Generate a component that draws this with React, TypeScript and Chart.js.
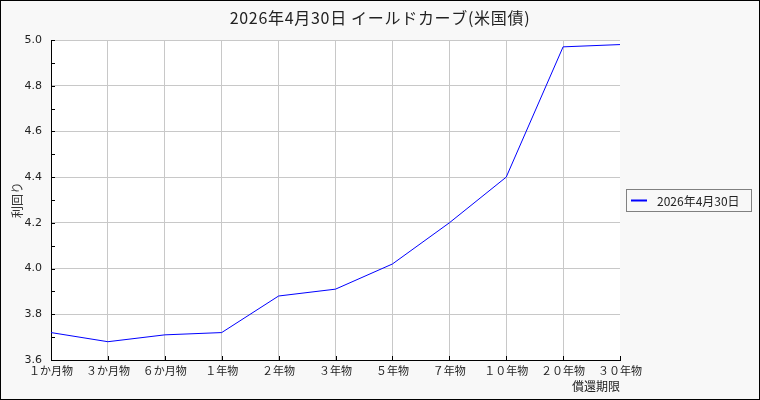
import React, { useEffect, useRef } from 'react';
import { Chart, registerables } from 'chart.js';

Chart.register(...registerables);

const maturities = ['１か月物', '３か月物', '６か月物', '１年物', '２年物', '３年物', '５年物', '７年物', '１０年物', '２０年物', '３０年物'];
const yields = [3.72, 3.68, 3.71, 3.72, 3.88, 3.91, 4.02, 4.20, 4.40, 4.97, 4.98];
const seriesLabel = '2026年4月30日';
const chartTitle = '2026年4月30日 イールドカーブ(米国債)';

const JP = '"Noto Sans CJK JP", "Noto Sans", sans-serif';
const BG = '#f8f8f8';
const GRID = '#c8c8c8';

const isMajor = (v: number) => Math.round(v * 10) % 2 === 0;

// page background, outer frame, white plot area and the title centred on the whole canvas
const backdrop = {
  id: 'backdrop',
  beforeDraw(chart: any) {
    const { ctx, width, height, chartArea } = chart;
    ctx.save();
    ctx.fillStyle = BG;
    ctx.fillRect(0, 0, width, height);
    ctx.strokeStyle = '#000';
    ctx.lineWidth = 1;
    ctx.strokeRect(0.5, 0.5, width - 1, height - 1);
    ctx.fillStyle = '#fff';
    ctx.fillRect(chartArea.left, chartArea.top, chartArea.right - chartArea.left, chartArea.bottom - chartArea.top);
    ctx.fillStyle = '#222';
    ctx.font = `16px ${JP}`;
    (ctx as any).letterSpacing = '0.7px';
    ctx.textAlign = 'center';
    ctx.textBaseline = 'middle';
    ctx.fillText(chartTitle, width / 2, 18);
    ctx.restore();
  },
};

// small tick marks drawn inside the plot area
const innerTicks = {
  id: 'innerTicks',
  afterDraw(chart: any) {
    const { ctx, chartArea, scales } = chart;
    ctx.save();
    ctx.strokeStyle = '#000';
    ctx.lineWidth = 1;
    ctx.beginPath();
    scales.y.ticks.forEach((t: any) => {
      const y = Math.round(scales.y.getPixelForValue(t.value)) + 0.5;
      ctx.moveTo(chartArea.left, y);
      ctx.lineTo(chartArea.left + 4, y);
    });
    scales.x.ticks.forEach((_t: any, i: number) => {
      const x = Math.round(scales.x.getPixelForTick(i)) + 0.5;
      ctx.moveTo(x, chartArea.bottom);
      ctx.lineTo(x, chartArea.bottom - 4);
    });
    ctx.stroke();
    ctx.restore();
  },
};

// boxed legend on the right
const boxLegend = {
  id: 'boxLegend',
  afterDraw(chart: any) {
    const { ctx, chartArea } = chart;
    const ds = chart.data.datasets[0];
    const left = chartArea.right + 6;
    const top = 189;
    const w = 126;
    const h = 23;
    ctx.save();
    ctx.fillStyle = BG;
    ctx.fillRect(left, top, w, h);
    ctx.strokeStyle = '#808080';
    ctx.lineWidth = 1;
    ctx.strokeRect(left + 0.5, top + 0.5, w - 1, h - 1);
    ctx.strokeStyle = ds.borderColor;
    ctx.lineWidth = 2;
    ctx.beginPath();
    ctx.moveTo(left + 5, top + h / 2);
    ctx.lineTo(left + 21, top + h / 2);
    ctx.stroke();
    ctx.fillStyle = '#222';
    ctx.font = `12px ${JP}`;
    ctx.textBaseline = 'middle';
    ctx.fillText(ds.label, left + 31, top + h / 2 + 1);
    ctx.restore();
  },
};

export default function App() {
  const canvasRef = useRef<HTMLCanvasElement>(null);

  useEffect(() => {
    if (!canvasRef.current) return;
    const last = maturities.length - 1;
    const chart = new Chart(canvasRef.current, {
      type: 'line',
      data: {
        labels: maturities,
        datasets: [
          {
            label: seriesLabel,
            data: yields,
            borderColor: '#0000ff',
            backgroundColor: '#0000ff',
            borderWidth: 1,
            pointRadius: 0,
            tension: 0,
          },
        ],
      },
      options: {
        responsive: false,
        animation: false,
        devicePixelRatio: 1,
        layout: { padding: { left: 4, right: 140, top: 40, bottom: 6 } },
        plugins: {
          legend: { display: false },
          tooltip: { enabled: false },
          title: { display: false },
        },
        scales: {
          x: {
            offset: false,
            afterFit: (s: any) => {
              s.height = 34;
            },
            grid: {
              drawTicks: false,
              color: (c: any) => (c.index === last ? 'transparent' : GRID),
            },
            border: { color: '#000', width: 1 },
            ticks: {
              autoSkip: false,
              maxRotation: 0,
              padding: 4,
              color: '#222',
              font: { family: JP, size: 11 },
            },
            title: {
              display: true,
              text: '償還期限',
              align: 'end',
              color: '#222',
              font: { family: JP, size: 12 },
              padding: { top: 3, bottom: 0 },
            },
          },
          y: {
            min: 3.6,
            max: 5.0,
            afterFit: (s: any) => {
              s.width = 47;
            },
            grid: {
              drawTicks: false,
              color: (c: any) => (c.tick && isMajor(c.tick.value) ? GRID : 'transparent'),
            },
            border: { color: '#000', width: 1 },
            ticks: {
              stepSize: 0.1,
              padding: 9,
              color: '#222',
              font: { family: '"DejaVu Sans", sans-serif', size: 11 },
              callback: (v: any) => (isMajor(Number(v)) ? Number(v).toFixed(1) : ''),
            },
            title: {
              display: true,
              text: '利回り',
              color: '#333',
              font: { family: JP, size: 12 },
              padding: { top: 6, bottom: 0 },
            },
          },
        },
      },
      plugins: [backdrop, innerTicks, boxLegend],
    });
    return () => chart.destroy();
  }, []);

  return (
    <div style={{ position: 'absolute', left: 0, top: 0, width: 760, height: 400 }}>
      <canvas ref={canvasRef} width={760} height={400} />
    </div>
  );
}
